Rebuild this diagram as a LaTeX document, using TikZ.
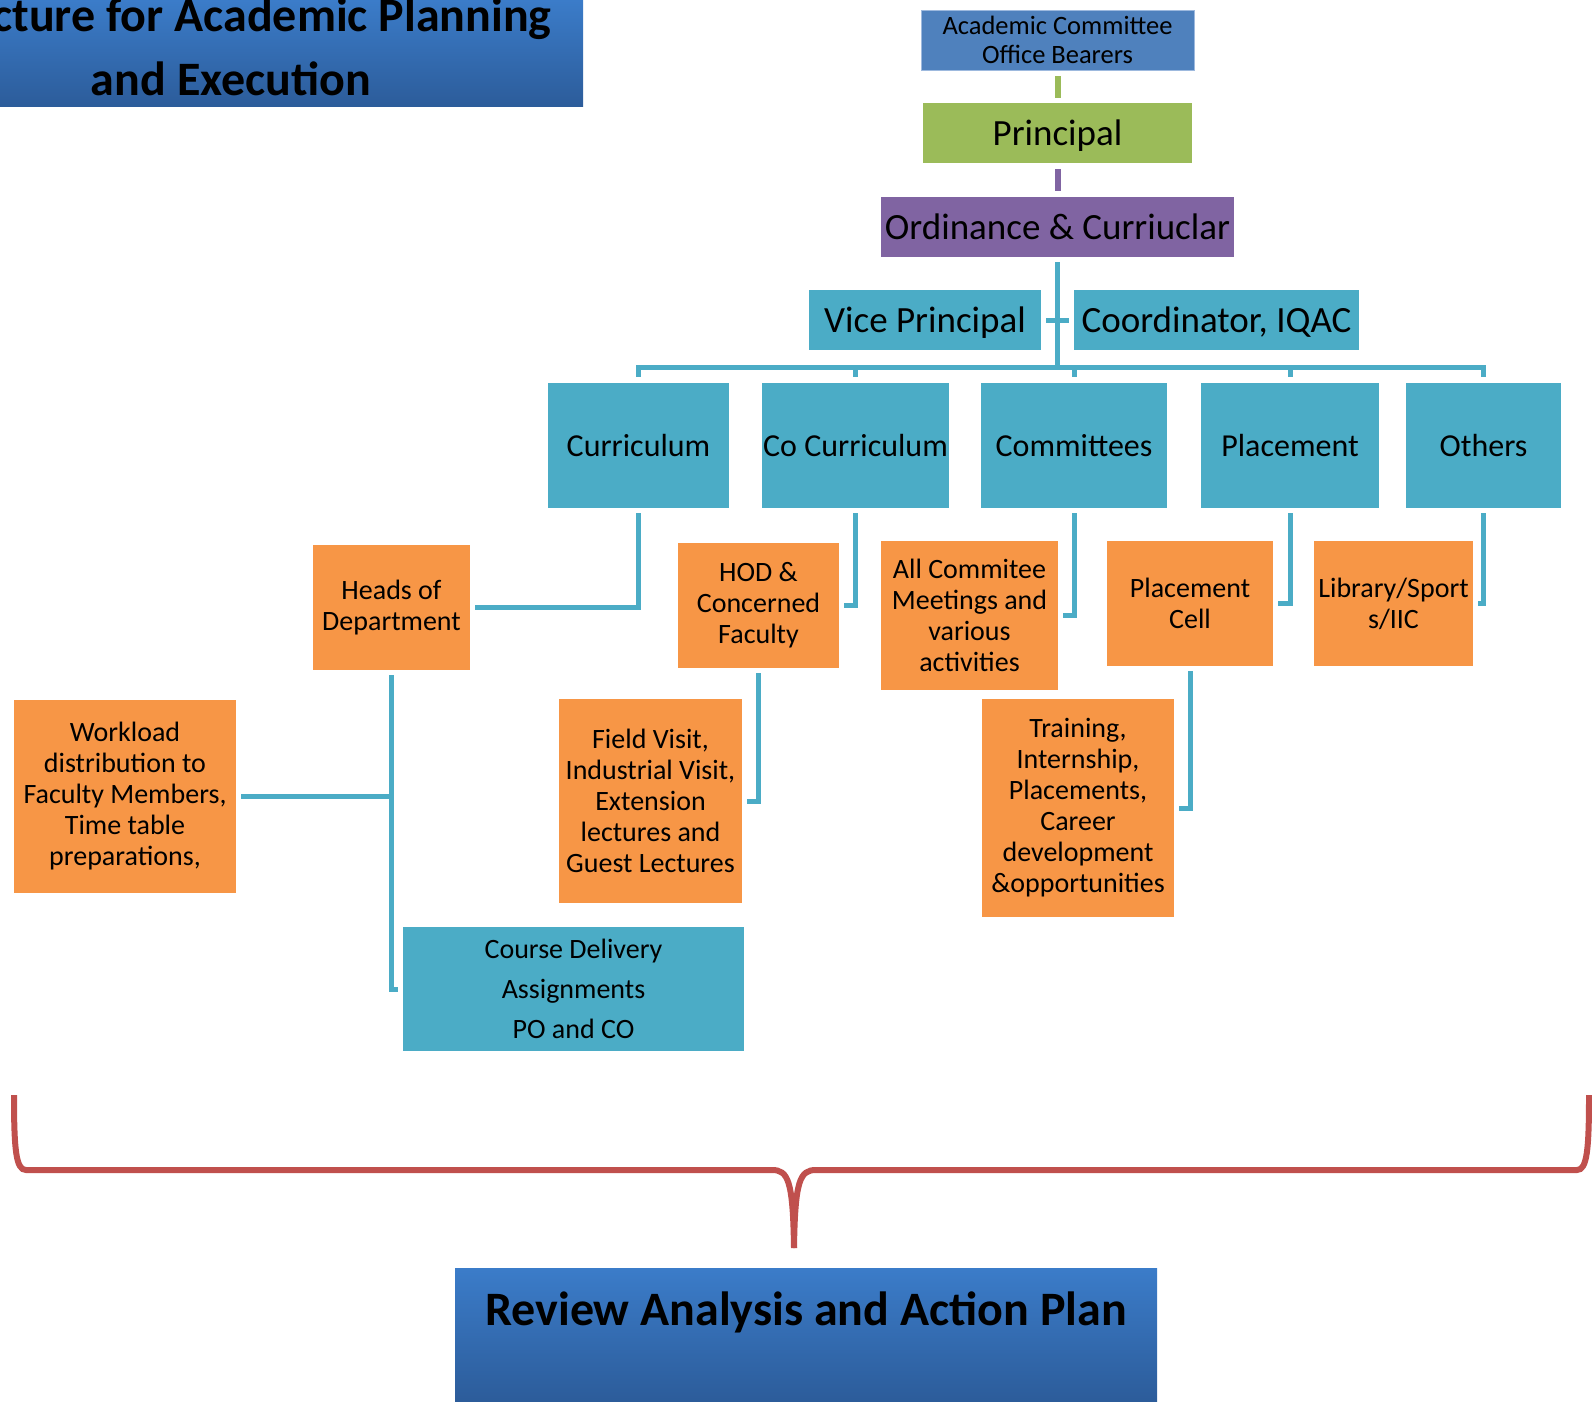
\documentclass[tikz,border=0pt]{standalone}
\usepackage{fontspec}
\setmainfont{Carlito}
\definecolor{tealc}{HTML}{4BACC6}
\definecolor{orangec}{HTML}{F79646}
\definecolor{princ}{HTML}{9BBB59}
\definecolor{ordc}{HTML}{8064A2}
\definecolor{acadc}{HTML}{4F81BD}
\definecolor{acadl}{HTML}{9DB9DE}
\definecolor{bracec}{HTML}{C0504D}
\definecolor{headtop}{HTML}{3B7CC9}
\definecolor{headbot}{HTML}{2C5C9A}

\begin{document}
\begin{tikzpicture}[x=1pt, y=-1pt,
    box/.style={fill=#1, inner sep=0pt, align=center},
    top/.style={box=#1, minimum height=60pt, text depth=0pt, font=\fontsize{37}{44}\selectfont},
    cat/.style={box=tealc, minimum height=125pt, font=\fontsize{32}{38}\selectfont},
    sub/.style={box=orangec, font=\fontsize{28}{31}\selectfont},
    conn/.style={draw=tealc, line width=5pt, shorten <=5pt, shorten >=5pt},
    brace/.style={draw=bracec, line width=6pt}]
    \useasboundingbox (0,0) rectangle (1592,1402);
    \clip (0,0) rectangle (1592,1402);

    \shade[top color=headtop, bottom color=headbot] (-130,0) rectangle (583,107);
    \node[font=\fontsize{48}{64}\selectfont\bfseries, align=center] (ttl) at (231,46.5)
      {Structure for Academic Planning\\and Execution};

    \node[box=acadc, draw=acadl, minimum width=273pt, minimum height=60pt,
      font=\fontsize{26.5}{29}\selectfont] (acad) at (1057.5,40) {Academic Committee\\Office Bearers};
    \node[top=princ, minimum width=269pt] (prin) at (1057.5,133) {Principal};
    \node[top=ordc, minimum width=353pt] (ord) at (1057.5,227) {Ordinance \& Curriuclar};
    \node[top=tealc, minimum width=232pt] (vp) at (925,320) {Vice Principal};
    \node[top=tealc, minimum width=285pt] (iqac) at (1216.5,320) {Coordinator, IQAC};

    \node[cat, minimum width=181pt] (cur) at (638.5,445.5) {Curriculum};
    \node[cat, minimum width=187pt] (cocur) at (855.5,445.5) {Co Curriculum};
    \node[cat, minimum width=186pt] (com) at (1074,445.5) {Committees};
    \node[cat, minimum width=178pt] (plc) at (1290,445.5) {Placement};
    \node[cat, minimum width=155pt] (oth) at (1483.5,445.5) {Others};

    \node[sub, minimum width=157pt, minimum height=125pt] (hod) at (391.5,607.5) {Heads of\\Department};
    \node[sub, minimum width=161pt, minimum height=125pt] (hcf) at (758.5,605.5) {HOD \&\\Concerned\\Faculty};
    \node[sub, minimum width=177pt, minimum height=149pt] (acm) at (969.5,615.5)
      {All Commitee\\Meetings and\\various\\activities};
    \node[sub, minimum width=166pt, minimum height=125pt] (pcell) at (1190,603.5) {Placement\\Cell};
    \node[sub, minimum width=159pt, minimum height=125pt] (lib) at (1393.5,603.5) {Library/Sport\\s/IIC};
    \node[sub, minimum width=222pt, minimum height=193pt] (work) at (125,796.5)
      {Workload\\distribution to\\Faculty Members,\\Time table\\preparations,};
    \node[sub, minimum width=183pt, minimum height=204pt] (field) at (650.5,801)
      {Field Visit,\\Industrial Visit,\\Extension\\lectures and\\Guest Lectures};
    \node[sub, minimum width=192pt, minimum height=218pt] (train) at (1078,808)
      {Training,\\Internship,\\Placements,\\Career\\development\\\&opportunities};
    \node[box=tealc, minimum width=341pt, minimum height=124pt,
      font=\fontsize{28}{40}\selectfont] (course) at (573.5,989) {Course Delivery\\Assignments\\PO and CO};

    \draw[draw=princ, line width=6pt, shorten <=6pt, shorten >=5pt] (acad.south) -- (prin.north);
    \draw[draw=ordc, line width=6pt, shorten <=6pt, shorten >=6pt] (prin.south) -- (ord.north);
    \coordinate (bus) at (1058,367);
    \foreach \n in {cur,cocur,com,plc,oth}
      \draw[conn, shorten >=6pt] (ord.south) |- (bus -| \n.north) -- (\n.north);
    \draw[conn] (vp.east) -- (iqac.west);
    \draw[conn] (cur.south) |- (hod.east);
    \draw[conn] (cocur.south) |- (hcf.east);
    \draw[conn] (com.south) |- (acm.east);
    \draw[conn] (plc.south) |- (pcell.east);
    \draw[conn] (oth.south) |- (lib.east);
    \draw[conn] (hod.south) |- (work.east);
    \draw[conn] (hod.south) |- (course.west);
    \draw[conn] (hcf.south) |- (field.east);
    \draw[conn] (pcell.south) |- (train.east);

    \draw[brace] (14,1095) .. controls (14,1150) and (16,1170) .. (26,1170) -- (772,1170)
      .. controls (788,1170) and (793,1180) .. (794,1248);
    \draw[brace] (1589,1095) .. controls (1589,1150) and (1587,1170) .. (1577,1170) -- (816,1170)
      .. controls (800,1170) and (795,1180) .. (794,1248);

    \shade[top color=headtop, bottom color=headbot] (455,1268) rectangle (1157,1402);
    \node[font=\fontsize{48}{58}\selectfont\bfseries, anchor=base] (rev) at (806,1325)
      {Review Analysis and Action Plan};
\end{tikzpicture}
\end{document}
